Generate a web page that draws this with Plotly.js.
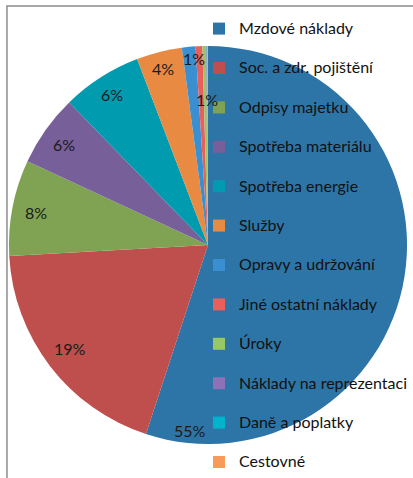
<!DOCTYPE html>
<html>
<head>
<meta charset="utf-8">
<script src="https://cdn.plot.ly/plotly-3.0.1.min.js"></script>
<style>
html,body{margin:0;padding:0;background:#fff;}
#chart{width:413px;height:478px;}
</style>
</head>
<body>
<div id="chart"></div>
<script>
const categories = [
  "Mzdové náklady",
  "Soc. a zdr. pojištění",
  "Odpisy majetku",
  "Spotřeba materiálu",
  "Spotřeba energie",
  "Služby",
  "Opravy a udržování",
  "Jiné ostatní náklady",
  "Úroky",
  "Náklady na reprezentaci",
  "Daně a poplatky",
  "Cestovné"
];
const values = [55.1, 19.1, 7.8, 5.8, 6.5, 3.7, 1.1, 0.55, 0.3, 0.05, 0.05, 0.05];
const colors = ["#2E75A7", "#BE4F4C", "#7FA352", "#775F99", "#009BAF", "#E88A42",
                "#3A8FD0", "#E8605B", "#98C862", "#8E72B8", "#00B4CC", "#F79A5A"];

// label placement style (Excel "best fit"): position along the slice and radius fraction
const labelAlong = [0.936, 0.51, 0.49, 0.48, 0.49, 0.48, 0.85, 1.6, 0.5, 0.5, 0.5, 0.5];
const labelRad   = [0.93, 0.865, 0.88, 0.88, 0.895, 0.91, 0.935, 0.73, 0.8, 0.8, 0.8, 0.8];

const total = values.reduce((a, b) => a + b, 0);
const labelsText = values.map(v => {
  const p = Math.round(v / total * 100);
  return p >= 1 ? p + "%" : "";
});

const W = 413, H = 478;
const cx = 209, cy = 245, r = 200;

// legend entries: an extra blank line gives the wide Excel-like spacing (not on the last one)
const legendNames = categories.map((c, i) =>
  "<span style='font-size:16px'>" + c + "</span>" + (i < categories.length - 1 ? "<br> " : ""));

const trace = {
  type: "pie",
  labels: legendNames,
  values: values,
  textinfo: "none",
  sort: false,
  direction: "clockwise",
  rotation: 0,
  marker: {colors: colors, line: {width: 0}},
  hoverinfo: "percent",
  domain: {x: [(cx - r) / W, (cx + r) / W], y: [(H - cy - r) / H, (H - cy + r) / H]}
};

// percentage labels placed from the cumulative values
const annotations = [];
let cum = 0;
values.forEach((v, i) => {
  const a0 = cum / total * 2 * Math.PI;
  cum += v;
  const a1 = cum / total * 2 * Math.PI;
  if (!labelsText[i]) return;
  const a = a0 + labelAlong[i] * (a1 - a0);
  const rr = labelRad[i] * r;
  const px = cx + rr * Math.sin(a);
  const py = cy - rr * Math.cos(a);
  annotations.push({
    x: px / W, y: 1 - py / H, xref: "paper", yref: "paper",
    text: labelsText[i], showarrow: false,
    xanchor: "center", yanchor: "middle",
    font: {family: "Lato, sans-serif", size: 16, color: "#1a1a1a"}
  });
});

const layout = {
  width: W, height: H,
  margin: {l: 0, r: 0, t: 0, b: 0},
  paper_bgcolor: "#fff",
  showlegend: true,
  legend: {
    x: 200 / W, xanchor: "left",
    y: 1 - 18 / H, yanchor: "top",
    bgcolor: "rgba(0,0,0,0)",
    font: {family: "Lato, sans-serif", size: 14, color: "#111"},
    valign: "top",
    traceorder: "normal"
  },
  annotations: annotations,
  shapes: [{
    type: "rect", xref: "paper", yref: "paper",
    x0: 7 / W, x1: 1.1, y0: -0.1, y1: 1 - 6 / H,
    line: {color: "#8c8c8c", width: 1.5}
  }]
};

Plotly.newPlot("chart", [trace], layout, {displayModeBar: false, staticPlot: true});
</script>
</body>
</html>
